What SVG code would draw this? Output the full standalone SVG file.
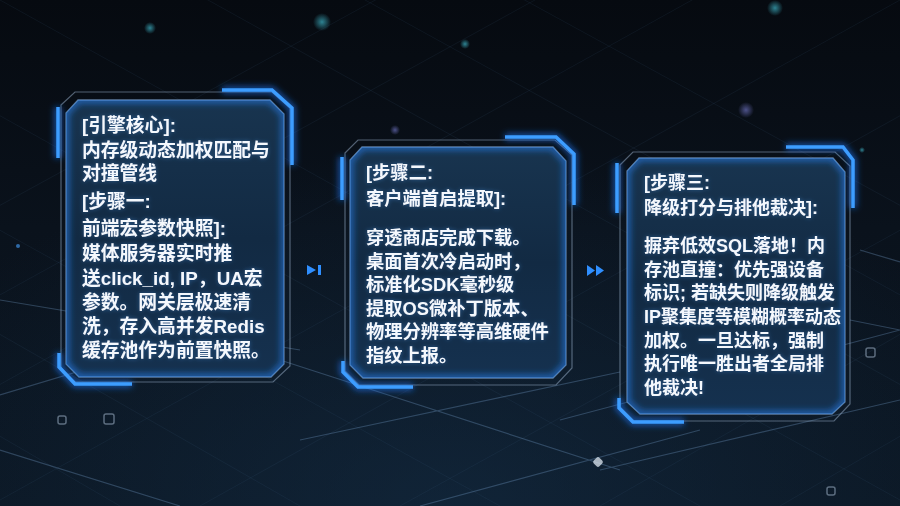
<svg xmlns="http://www.w3.org/2000/svg" width="900" height="506" viewBox="0 0 900 506">
<style>
.txt{font-family:"Liberation Sans","Noto Sans CJK SC",sans-serif;font-size:18.5px;font-weight:600;fill:#f4f8fd}
.outer{fill:none;stroke:#8fa6bf;stroke-opacity:.55;stroke-width:1.2}
.panel{fill:url(#pg);stroke:#6f93bd;stroke-opacity:.8;stroke-width:1.3}
.pglow{fill:none;stroke:#2a86ff;stroke-width:7;stroke-opacity:.55;filter:url(#blur4)}
.accent{fill:none;stroke:#3d9dff;stroke-width:3.5;stroke-linejoin:miter}
.accentglow{fill:none;stroke:#1f7cff;stroke-width:7;stroke-opacity:.6;filter:url(#blur4)}
.grid{stroke:#4d6f92;stroke-opacity:.11;stroke-width:1;fill:none}
.streak{stroke:#7fa9d6;stroke-opacity:.3;stroke-width:1.2;fill:none}
.arrow{fill:#2f8fff}
.ico{fill:none;stroke:#9fb3c6;stroke-opacity:.55;stroke-width:1.5}
</style>
<defs>
<linearGradient id="bg" x1="0" y1="0" x2="0" y2="1">
<stop offset="0" stop-color="#060a10"/>
<stop offset="0.45" stop-color="#0a121c"/>
<stop offset="1" stop-color="#0b1622"/>
</linearGradient>
<linearGradient id="pg" x1="0" y1="0" x2="0" y2="1">
<stop offset="0" stop-color="#18344f"/>
<stop offset="0.5" stop-color="#122a43"/>
<stop offset="1" stop-color="#15314f"/>
</linearGradient>
<radialGradient id="bok1"><stop offset="0" stop-color="#3fb6c9" stop-opacity=".7"/><stop offset="1" stop-color="#3fb6c9" stop-opacity="0"/></radialGradient>
<radialGradient id="bok2"><stop offset="0" stop-color="#7b7fd6" stop-opacity=".6"/><stop offset="1" stop-color="#7b7fd6" stop-opacity="0"/></radialGradient>
<radialGradient id="floor" cx="0.5" cy="1" r="0.7"><stop offset="0" stop-color="#16324d" stop-opacity=".5"/><stop offset="1" stop-color="#16324d" stop-opacity="0"/></radialGradient>
<filter id="blur4" x="-20%" y="-20%" width="140%" height="140%"><feGaussianBlur stdDeviation="3"/></filter>
<filter id="tglow" x="-10%" y="-30%" width="120%" height="160%">
<feGaussianBlur in="SourceAlpha" stdDeviation="2" result="b"/>
<feFlood flood-color="#4da3ff" flood-opacity=".4"/>
<feComposite in2="b" operator="in" result="g"/>
<feMerge><feMergeNode in="g"/><feMergeNode in="SourceGraphic"/></feMerge>
</filter>
<clipPath id="c1"><path d="M78,100 L270,100 L284,114 L284,364 L271,377 L79,377 L66,364 L66,113 Z"/></clipPath>
<clipPath id="c2"><path d="M362,147 L553,147 L566,161 L566,365 L553,378 L363,378 L350,365 L350,160 Z"/></clipPath>
<clipPath id="c3"><path d="M639,158 L833,158 L845,172 L845,402 L832,414 L640,414 L627,402 L627,171 Z"/></clipPath>
</defs>

<g id="background">
<rect width="900" height="506" fill="url(#bg)"/>
<rect width="900" height="506" fill="url(#floor)"/>
<path class="grid" d="M-200,120 L500,506 M-100,60 L700,506 M0,0 L900,500 M100,-60 L1000,440 M220,-80 L1000,350 M360,-90 L1000,260 M-200,220 L300,506 M-200,320 L120,506
M1100,120 L400,506 M1000,60 L200,506 M900,0 L0,500 M800,-60 L-100,440 M680,-80 L-100,350 M540,-90 L-100,260 M1100,220 L600,506 M1100,320 L780,506"/>
<path class="streak" d="M0,300 L300,350 M0,395 L250,320 M280,360 L620,470 M300,440 L620,372 M560,420 L900,330 M600,470 L900,400 M850,320 L900,330 M0,450 L180,506 M420,506 L700,430 M860,250 L900,262"/>
<circle cx="322" cy="22" r="9" fill="url(#bok1)"/>
<circle cx="465" cy="44" r="5" fill="url(#bok1)"/>
<circle cx="746" cy="110" r="8" fill="url(#bok2)"/>
<circle cx="775" cy="8" r="8" fill="url(#bok1)"/>
<circle cx="150" cy="28" r="6" fill="url(#bok1)"/>
<circle cx="395" cy="130" r="5" fill="url(#bok2)"/>
<circle cx="18" cy="246" r="2" fill="#3d8fe0" fill-opacity=".7"/>
<circle cx="862" cy="150" r="3" fill="url(#bok1)"/>
<rect class="ico" x="58" y="416" width="8" height="8" rx="2"/>
<rect class="ico" x="104" y="414" width="10" height="10" rx="2"/>
<rect class="ico" x="866" y="348" width="9" height="9" rx="2"/>
<rect x="594" y="458" width="8" height="8" rx="2" fill="#dfe8f1" fill-opacity=".75" transform="rotate(45 598 462)"/>
<rect class="ico" x="827" y="487" width="8" height="8" rx="2"/>
</g>

<g id="connectors">
<g id="conn1"><polygon class="arrow" points="307,265 316,270 307,275"/><rect class="arrow" x="318" y="265" width="3" height="10"/></g>
<g id="conn2"><polygon class="arrow" points="587,265 595,270.5 587,276"/><polygon class="arrow" points="596,265 604,270.5 596,276"/></g>
</g>

<g id="card1">
<path class="outer" d="M61,105 L75,92 L272,92 L290,108 L290,366 L273,382 L75,382 L61,368 Z"/>
<path class="panel" d="M78,100 L270,100 L284,114 L284,364 L271,377 L79,377 L66,364 L66,113 Z"/>
<path class="pglow" clip-path="url(#c1)" d="M78,100 L270,100 L284,114 L284,364 L271,377 L79,377 L66,364 L66,113 Z"/>
<path class="accentglow" d="M222,90 L272,90 L292,108 L292,165 M58,107 L58,158 M59,353 L59,367 L75,384 L132,384"/>
<path class="accent" d="M222,90 L272,90 L292,108 L292,165 M58,107 L58,158 M59,353 L59,367 L75,384 L132,384"/>
<g class="txt" filter="url(#tglow)" style="font-size:18.8px">
<text x="82" y="132">[引擎核心]:</text>
<text x="82" y="157">内存级动态加权匹配与</text>
<text x="82" y="180">对撞管线</text>
<text x="82" y="208">[步骤一:</text>
<text x="82" y="235">前端宏参数快照]:</text>
<text x="82" y="260">媒体服务器实时推</text>
<text x="82" y="285">送click_id, IP，UA宏</text>
<text x="82" y="309">参数。网关层极速清</text>
<text x="82" y="333">洗，存入高并发Redis</text>
<text x="82" y="357">缓存池作为前置快照。</text>
</g>
</g>

<g id="card2">
<path class="outer" d="M345,153 L358,140 L555,140 L572,155 L572,368 L556,385 L359,385 L345,371 Z"/>
<path class="panel" d="M362,147 L553,147 L566,161 L566,365 L553,378 L363,378 L350,365 L350,160 Z"/>
<path class="pglow" clip-path="url(#c2)" d="M362,147 L553,147 L566,161 L566,365 L553,378 L363,378 L350,365 L350,160 Z"/>
<path class="accentglow" d="M505,137 L556,137 L574,154 L574,205 M342,157 L342,200 M343,361 L343,372 L358,387 L413,387"/>
<path class="accent" d="M505,137 L556,137 L574,154 L574,205 M342,157 L342,200 M343,361 L343,372 L358,387 L413,387"/>
<g class="txt" filter="url(#tglow)" style="font-size:18.3px">
<text x="366" y="179">[步骤二:</text>
<text x="366" y="205">客户端首启提取]:</text>
<text x="366" y="244">穿透商店完成下载。</text>
<text x="366" y="268">桌面首次冷启动时，</text>
<text x="366" y="291">标准化SDK毫秒级</text>
<text x="366" y="315">提取OS微补丁版本、</text>
<text x="366" y="338">物理分辨率等高维硬件</text>
<text x="366" y="362">指纹上报。</text>
</g>
</g>

<g id="card3">
<path class="outer" d="M620,165 L633,152 L835,152 L850,166 L850,404 L834,421 L634,421 L620,407 Z"/>
<path class="panel" d="M639,158 L833,158 L845,172 L845,402 L832,414 L640,414 L627,402 L627,171 Z"/>
<path class="pglow" clip-path="url(#c3)" d="M639,158 L833,158 L845,172 L845,402 L832,414 L640,414 L627,402 L627,171 Z"/>
<path class="accentglow" d="M786,147 L843,147 L853,160 L853,208 M617,163 L617,213 M619,398 L619,408 L633,422 L684,422"/>
<path class="accent" d="M786,147 L843,147 L853,160 L853,208 M617,163 L617,213 M619,398 L619,408 L633,422 L684,422"/>
<g class="txt" filter="url(#tglow)" style="font-size:18px">
<text x="644" y="189">[步骤三:</text>
<text x="644" y="214">降级打分与排他裁决]:</text>
<text x="644" y="252">摒弃低效SQL落地！内</text>
<text x="644" y="276">存池直撞：优先强设备</text>
<text x="644" y="299">标识; 若缺失则降级触发</text>
<text x="644" y="323">IP聚集度等模糊概率动态</text>
<text x="644" y="347">加权。一旦达标，强制</text>
<text x="644" y="370">执行唯一胜出者全局排</text>
<text x="644" y="394">他裁决!</text>
</g>
</g>
</svg>
